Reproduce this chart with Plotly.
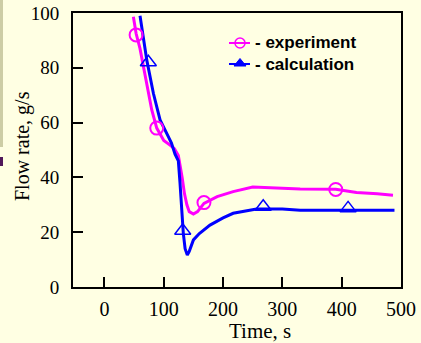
import plotly.graph_objects as go

# Experiment curve (time s, flow g/s)
exp_t = [48.8, 53.4, 60, 68.5, 79.8, 88.2, 100, 110.6, 118, 124.6, 128, 131, 135, 139, 143, 150, 157, 167.8, 190, 217, 250, 280, 330, 390, 425, 460, 486.5]
exp_q = [98.6, 92.5, 87, 76.8, 64.6, 58, 53.5, 51.8, 50.5, 48, 44, 40, 34, 30, 27.5, 26.6, 27.5, 30.5, 33, 34.8, 36.5, 36.2, 35.8, 35.7, 34.5, 34, 33.5]
exp_mark_t = [53.4, 88.2, 167.8, 390]
exp_mark_q = [92, 58, 30.8, 35.6]

# Calculation curve
calc_t = [60, 66, 71.4, 82.5, 93.8, 107.7, 113, 119, 124.6, 127.4, 130, 133, 136, 139.7, 143, 150, 160, 178, 200, 217, 256.5, 300, 330, 410, 489]
calc_q = [99, 90, 82.8, 70.7, 61, 54.9, 52.5, 48.5, 46, 38, 28, 19.6, 14, 11.7, 13, 17.2, 19.5, 22.6, 25.2, 26.9, 28.5, 28.5, 28, 28, 28]
calc_mark_t = [74, 132, 267.7, 410.8]
calc_mark_q = [82, 20.5, 29.3, 28.7]

x_ticks = [0, 100, 200, 300, 400, 500]
y_ticks = [0, 20, 40, 60, 80, 100]
series_names = ["- experiment", "- calculation"]

MAG = "#FF00FF"
BLU = "#0000FF"
BG = "#FFFFE3"

W, H = 421, 343
L, R, T, B = 73, 20, 13, 56
PW, PH = W - L - R, H - T - B


def px(xp):
    return (xp - L) / PW


def py(yp):
    return (H - B - yp) / PH


fig = go.Figure()
fig.add_trace(go.Scatter(x=exp_t, y=exp_q, mode="lines", line=dict(color=MAG, width=3),
                         name=series_names[0], showlegend=False))
fig.add_trace(go.Scatter(x=calc_t, y=calc_q, mode="lines", line=dict(color=BLU, width=3),
                         name=series_names[1], showlegend=False))
fig.add_trace(go.Scatter(x=exp_mark_t, y=exp_mark_q, mode="markers", name=series_names[0],
                         marker=dict(symbol="circle-open", size=13, color=MAG, line=dict(width=2, color=MAG)), showlegend=False))
fig.add_trace(go.Scatter(x=calc_mark_t, y=calc_mark_q, mode="markers", name=series_names[1],
                         marker=dict(symbol="triangle-up-open", size=14, color=BLU, line=dict(width=1.5, color=BLU)), showlegend=False))

serif = "Liberation Serif"
shapes = [
    dict(type="rect", xref="paper", yref="paper", x0=px(0), x1=px(3), y0=py(147), y1=py(0),
         fillcolor="#CDCDA5", line=dict(width=0), layer="below"),
    dict(type="rect", xref="paper", yref="paper", x0=px(0), x1=px(3), y0=py(166), y1=py(157),
         fillcolor="#50185A", line=dict(width=0), layer="below"),
    # legend: experiment
    dict(type="line", xref="paper", yref="paper", x0=px(229), x1=px(250), y0=py(43), y1=py(43),
         line=dict(color=MAG, width=2)),
    dict(type="circle", xref="paper", yref="paper", x0=px(235), x1=px(245), y0=py(48), y1=py(38),
         line=dict(color=MAG, width=1.5), fillcolor="rgba(0,0,0,0)"),
    # legend: calculation
    dict(type="line", xref="paper", yref="paper", x0=px(229), x1=px(250), y0=py(64), y1=py(64),
         line=dict(color=BLU, width=2)),
    dict(type="path", xref="paper", yref="paper",
         path=f"M {px(234)} {py(66)} L {px(246)} {py(66)} L {px(240)} {py(58.5)} Z",
         fillcolor=BLU, line=dict(color=BLU, width=1)),
]
annotations = [
    dict(text=series_names[0], xref="paper", yref="paper", x=px(253), y=py(43), xanchor="left", yanchor="middle",
         showarrow=False, font=dict(family="Liberation Sans", size=17, color="black", weight="bold")),
    dict(text=series_names[1], xref="paper", yref="paper", x=px(253), y=py(64), xanchor="left", yanchor="middle",
         showarrow=False, font=dict(family="Liberation Sans", size=17, color="black", weight="bold")),
    dict(text="Time, s", xref="paper", yref="paper", x=px(260), y=py(331), xanchor="center", yanchor="middle",
         showarrow=False, font=dict(family=serif, size=21, color="black")),
    dict(text="Flow rate, g/s", xref="paper", yref="paper", x=px(22), y=py(146), xanchor="center", yanchor="middle",
         textangle=-90, showarrow=False, font=dict(family=serif, size=20, color="black")),
]

fig.update_layout(
    width=W, height=H,
    margin=dict(l=L, r=R, t=T, b=B, autoexpand=False),
    paper_bgcolor=BG, plot_bgcolor=BG,
    showlegend=False,
    xaxis=dict(range=[-53, 500], tickvals=x_ticks, ticktext=[str(v) for v in x_ticks],
               ticks="inside", ticklen=10, tickwidth=2, tickcolor="black",
               showline=True, linewidth=2, linecolor="black", mirror=True,
               showgrid=False, zeroline=False, automargin=False, ticklabelstandoff=3,
               tickfont=dict(family=serif, size=20, color="black")),
    yaxis=dict(range=[0, 100], tickvals=y_ticks, ticktext=[str(v) for v in y_ticks],
               ticks="inside", ticklen=10, tickwidth=2, tickcolor="black",
               showline=True, linewidth=2, linecolor="black", mirror=True,
               showgrid=False, zeroline=False, ticklabelstandoff=8, automargin=False,
               tickfont=dict(family=serif, size=19, color="black")),
    shapes=shapes,
    annotations=annotations,
)
fig.write_html("out.html")
